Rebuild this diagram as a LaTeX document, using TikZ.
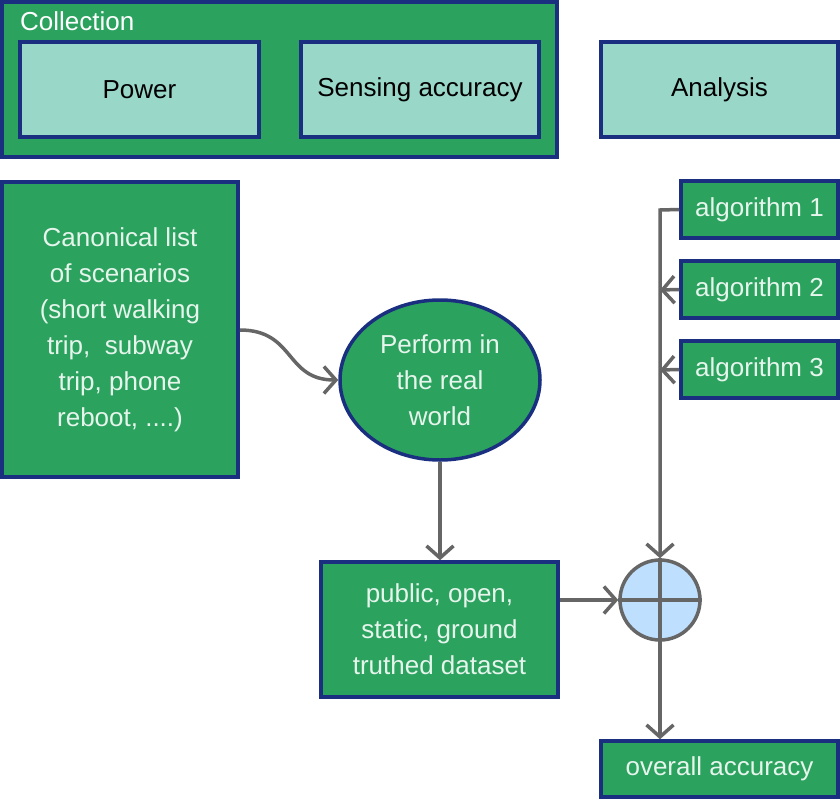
\documentclass[tikz,border=0pt]{standalone}
\usepackage{fontspec}
\setmainfont{Liberation Sans}
\usetikzlibrary{arrows.meta,shapes.geometric}
\definecolor{boxgreen}{HTML}{2CA25F}
\definecolor{navy}{HTML}{1B2F80}
\definecolor{teal}{HTML}{99D8C9}
\definecolor{lblue}{HTML}{BFDFFF}
\definecolor{arrgray}{HTML}{666666}
\definecolor{mint}{HTML}{E5F5EC}
\tikzset{
  gbox/.style={draw=navy, line width=3.5pt, fill=boxgreen, text=mint, align=center, inner sep=0pt,
    font=\fontsize{26}{36}\selectfont},
  tbox/.style={draw=navy, line width=3.5pt, fill=teal, text=black, align=center, inner sep=0pt,
    font=\fontsize{26}{36}\selectfont},
  conn/.style={draw=arrgray, line width=3.5pt},
  arr/.style={conn, -{Straight Barb[length=12pt,width=27pt,line width=3.5pt]}},
}
\begin{document}
\begin{tikzpicture}[x=1pt,y=-1pt]
\useasboundingbox (0,0) rectangle (840,800);
% top row
\node[gbox, minimum width=555pt, minimum height=155pt] (coll) at (279.5,79.5) {};
\node[text=white, font=\fontsize{26}{36}\selectfont, anchor=west, inner sep=0pt] (colltitle) at (20,21) {Collection};
\node[tbox, minimum width=239pt, minimum height=95pt] (power) at (139.5,89.5) {Power};
\node[tbox, minimum width=238pt, minimum height=95pt] (sensing) at (420,89.5) {Sensing accuracy};
\node[tbox, minimum width=237pt, minimum height=95pt] (analysis) at (719.5,89.5) {Analysis};
% left column
\node[gbox, minimum width=236pt, minimum height=295pt] (canon) at (120,329.5)
  {Canonical list\\of scenarios\\(short walking\\trip,\ \ subway\\trip, phone\\reboot, ....)};
\node[gbox, ellipse, minimum width=200pt, minimum height=160pt] (perform) at (440,380)
  {Perform in\\the real\\world};
\node[gbox, minimum width=237pt, minimum height=135pt] (dataset) at (439.5,629.5)
  {public, open,\\static, ground\\truthed dataset};
% algorithms
\node[gbox, minimum width=157pt, minimum height=57pt] (alg1) at (759.5,209.5) {algorithm 1};
\node[gbox, minimum width=157pt, minimum height=57pt] (alg2) at (759.5,289.5) {algorithm 2};
\node[gbox, minimum width=157pt, minimum height=57pt] (alg3) at (759.5,369.5) {algorithm 3};
% junction
\node[draw=arrgray, line width=3.5pt, fill=lblue, circle, minimum size=80pt, inner sep=0pt] (junc) at (660,600) {};
\draw[conn] (junc.north) -- (junc.south);
\draw[conn] (junc.west) -- (junc.east);
\node[gbox, minimum width=237pt, minimum height=56pt] (overall) at (719.5,769) {overall accuracy};
% connectors
\coordinate (bend) at (660,210);
\coordinate (j2) at (660,290);
\coordinate (j3) at (660,370);
\draw[arr] (alg1.west) -- (bend) -- (junc.north);
\draw[arr] (alg2.west) -- (j2);
\draw[arr] (alg3.west) -- (j3);
\coordinate (cstart) at (240,330);
\draw[arr] (cstart) .. controls (295,330) and (285,380) .. (perform.west);
\draw[arr] (perform.south) -- (perform.south |- dataset.north);
\draw[arr] (dataset.east |- junc.west) -- (junc.west);
\draw[arr] (junc.south) -- (junc.south |- overall.north);
\end{tikzpicture}
\end{document}
